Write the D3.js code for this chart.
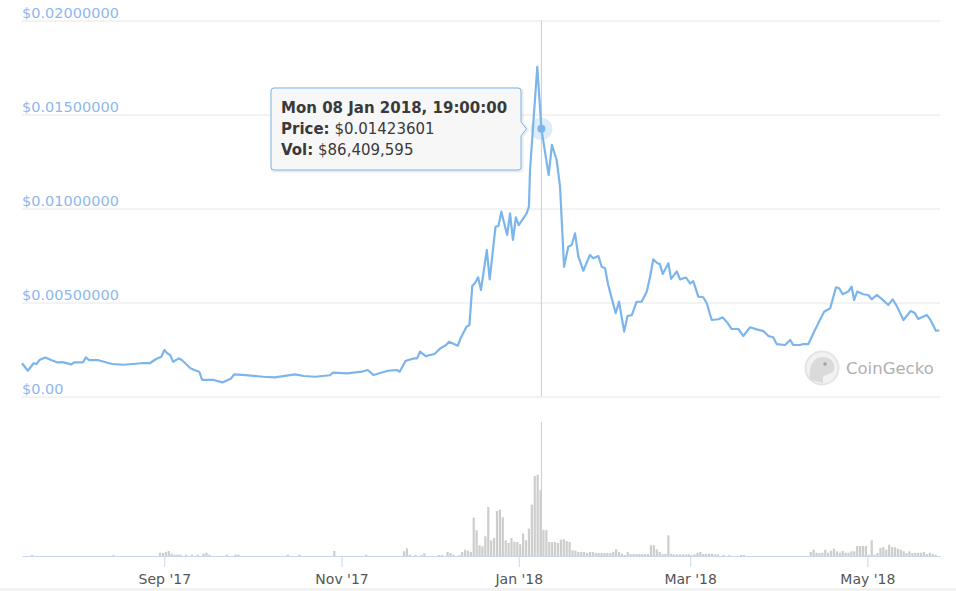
<!DOCTYPE html>
<html>
<head>
<meta charset="utf-8">
<script src="https://cdn.jsdelivr.net/npm/d3@7"></script>
<style>
  body { margin: 0; background: #fff; }
  text { font-family: "DejaVu Sans", sans-serif; }
</style>
</head>
<body>
<div class="chart"></div>
<script>
// price vertices (UTC)
var priceDates = [
  "2017-07-14","2017-07-16","2017-07-18","2017-07-19","2017-07-20","2017-07-22","2017-07-24","2017-07-26","2017-07-28","2017-07-31",
  "2017-08-01","2017-08-04","2017-08-05","2017-08-06","2017-08-09","2017-08-14","2017-08-18","2017-08-24","2017-08-27","2017-08-29",
  "2017-08-31","2017-09-01","2017-09-02","2017-09-03","2017-09-04","2017-09-06","2017-09-07","2017-09-10","2017-09-12","2017-09-13",
  "2017-09-14","2017-09-18","2017-09-21","2017-09-24","2017-09-25","2017-09-29","2017-10-05","2017-10-09","2017-10-16","2017-10-19",
  "2017-10-23","2017-10-28","2017-10-29","2017-11-03","2017-11-08","2017-11-10","2017-11-12","2017-11-17","2017-11-20","2017-11-21",
  "2017-11-23","2017-11-24","2017-11-26","2017-11-27","2017-11-28","2017-11-30","2017-12-03","2017-12-05","2017-12-07","2017-12-08",
  "2017-12-11","2017-12-12","2017-12-14","2017-12-15","2017-12-16","2017-12-17","2017-12-18","2017-12-19","2017-12-21","2017-12-22",
  "2017-12-24","2017-12-25","2017-12-26","2017-12-28","2017-12-29","2017-12-30","2017-12-31","2018-01-01","2018-01-03 17","2018-01-04 12",
  "2018-01-04 21","2018-01-07 09","2018-01-08 19","2018-01-11 07","2018-01-12 10","2018-01-14 01","2018-01-15 05","2018-01-16 14","2018-01-18 01","2018-01-19 05",
  "2018-01-20 09","2018-01-21 12","2018-01-23 05","2018-01-25 12","2018-01-26 16","2018-01-28 10","2018-01-29 13","2018-01-30 17","2018-01-31 19","2018-02-02",
  "2018-02-03 09","2018-02-04 12","2018-02-06 07","2018-02-07 10","2018-02-08 22","2018-02-10 14","2018-02-12 07","2018-02-14 01","2018-02-15 05","2018-02-16 07",
  "2018-02-17 17","2018-02-18 14","2018-02-19 13","2018-02-21 12","2018-02-22 10","2018-02-24 10","2018-02-25 12","2018-02-27 14","2018-02-28 23","2018-03-02 02",
  "2018-03-03 19","2018-03-05 12","2018-03-06 17","2018-03-08 10","2018-03-10 17","2018-03-12 05","2018-03-13 19","2018-03-15 07","2018-03-17 14","2018-03-19 07",
  "2018-03-21 14","2018-03-23 22","2018-03-26 05","2018-03-27 22","2018-03-29 14","2018-03-30 19","2018-04-02 16","2018-04-04 10","2018-04-05 12","2018-04-07 19",
  "2018-04-08 23","2018-04-10 17","2018-04-12 10","2018-04-14 02","2018-04-16 02","2018-04-18 05","2018-04-20 05","2018-04-21 07","2018-04-22 12","2018-04-24 10",
  "2018-04-25 14","2018-04-26 10","2018-04-27 12","2018-04-29 14","2018-05-01 07","2018-05-02 12","2018-05-04 05","2018-05-05 22","2018-05-08 05","2018-05-09 17",
  "2018-05-11 02","2018-05-13 10","2018-05-15 22","2018-05-17 05","2018-05-18 12","2018-05-21 10","2018-05-22 14","2018-05-24 14","2018-05-25 19"
];
var priceValues = [
  0.00177,0.00137,0.00177,0.00173,0.00194,0.00208,0.00194,0.00182,0.00183,0.00171,
  0.00182,0.00182,0.00208,0.00194,0.00194,0.00173,0.00169,0.00177,0.00177,0.00198,
  0.00212,0.00247,0.00230,0.00221,0.00185,0.00203,0.00194,0.00150,0.00137,0.00132,
  0.00088,0.00088,0.00075,0.00096,0.00118,0.00114,0.00105,0.00102,0.00118,0.00109,
  0.00105,0.00113,0.00127,0.00123,0.00132,0.00141,0.00114,0.00137,0.00141,0.00132,
  0.00189,0.00194,0.00203,0.00203,0.00238,0.00215,0.00226,0.00256,0.00274,0.00291,
  0.00270,0.00310,0.00371,0.00380,0.00588,0.00605,0.00634,0.00567,0.00779,0.00623,
  0.00903,0.00907,0.00983,0.00859,0.00974,0.00833,0.00953,0.00912,0.00974,0.01010,
  0.01205,0.01754,0.01423601,0.01178,0.01338,0.01258,0.01116,0.00690,0.00797,0.00806,
  0.00868,0.00745,0.00669,0.00753,0.00735,0.00747,0.00690,0.00682,0.00593,0.00522,
  0.00443,0.00504,0.00345,0.00428,0.00433,0.00504,0.00504,0.00557,0.00637,0.00730,
  0.00709,0.00704,0.00652,0.00709,0.00626,0.00665,0.00623,0.00633,0.00601,0.00614,
  0.00531,0.00528,0.00496,0.00407,0.00411,0.00421,0.00393,0.00359,0.00359,0.00322,
  0.00368,0.00357,0.00348,0.00322,0.00315,0.00279,0.00274,0.00301,0.00274,0.00274,
  0.00279,0.00279,0.00336,0.00389,0.00451,0.00469,0.00581,0.00576,0.00544,0.00558,
  0.00584,0.00513,0.00558,0.00544,0.00540,0.00517,0.00540,0.00519,0.00487,0.00517,
  0.00482,0.00407,0.00455,0.00446,0.00412,0.00434,0.00411,0.00350,0.00351
];

// daily volume, millions USD, one bar per day from volStart
var volStart = "2017-07-14 12";
var volumeM = [
  0,0,0,1.3,0,0,0,0,0,0,
  0,0,0,0,0,0,0,0,0,0,
  0,0,0,0,0,0,0,0,0,0,
  0,1.3,0,0,0,0,0,0,0,0,
  0,0,0,0,0,0,0,4.3,3.9,5.3,
  6.6,3.0,1.7,1.7,1.7,0,1.7,0,1.7,0,
  1.7,0,3.0,4.3,1.7,0,0,0,0,0,
  1.7,0,0,1.7,1.7,0,0,0,0,0,
  0,0,0,0,0,0,0,0,0,0,
  0,1.7,0,0,0,1.7,0,0,0,0,
  0,0,0,0,0,0,0,6.6,0,0,
  0,0,0,0,0,0,0,0,1.7,0,
  0,0,0,0,0,0,0,0,0,0,
  0,6.2,10.1,1.7,0,1.3,0,1.3,3.5,0,
  0,0,0,1.3,1.3,0,5.3,3.9,1.7,0,
  1.3,5.3,8.3,7.0,5.3,50.4,33.8,14.1,12.8,25.9,
  64.4,20.6,23.7,59.2,60.9,50.9,20.6,17.1,23.7,18.8,
  18.4,15.4,29.3,20.6,35.9,67.5,105.2,106.9,86.4,34.6,
  33.8,18.4,18.4,18.4,17.1,21.4,22.0,19.7,18.4,7.5,
  7.0,5.3,5.3,5.3,3.9,5.3,5.3,3.9,3.9,3.9,
  3.9,3.9,3.9,5.3,8.8,5.3,3.0,1.3,5.3,2.6,
  2.6,2.6,2.6,2.6,2.6,2.6,14.1,14.1,8.8,5.3,
  2.6,2.6,27.2,3.0,2.2,2.2,2.2,2.2,2.2,2.2,
  1.3,2.2,4.3,5.3,2.6,2.6,3.0,3.0,2.2,2.2,
  0,1.3,0,1.3,0,0,0,1.3,1.3,0,
  0,0,0,0,0,0,0,0,0,0,
  0,0,0,0,0,0,0,0,0,0,
  0,5.3,8.3,4.3,3.9,4.3,8.3,4.3,7.0,9.6,
  6.2,4.3,6.6,4.3,4.3,6.2,6.2,13.2,13.2,13.2,
  13.2,1.7,20.6,1.7,3.9,10.5,11.8,8.3,14.9,11.8,
  11.4,9.6,8.3,6.2,3.9,6.2,3.9,4.3,4.3,4.3,
  5.3,2.6,4.3,2.6,1.7,0
];

var yTickValues = [0, 0.005, 0.01, 0.015, 0.02];
var xTickDates = ["2017-09-01","2017-11-01","2018-01-01","2018-03-01","2018-05-01"];
var xDomain = ["2017-07-14","2018-05-26"];

var hoverDate = "2018-01-08 19";
var hoverPrice = 0.01423601;
var hoverVol = 86409595;

var parseDay = d3.utcParse("%Y-%m-%d"),
    parseHour = d3.utcParse("%Y-%m-%d %H");
var parse = function(s){ return s.length > 10 ? parseHour(s) : parseDay(s); };

var size = { width: 956, height: 591 };
var plot = { left: 22, right: 940, priceTop: 20.5, priceBottom: 396.5, volTop: 422, volBottom: 556 };

var svg = d3.select('.chart').append('svg')
  .attr('width', size.width)
  .attr('height', size.height);

var x = d3.scaleUtc()
  .domain(xDomain.map(parse))
  .range([plot.left, plot.right]);

var y = d3.scaleLinear()
  .domain([0, 0.02])
  .range([plot.priceBottom, plot.priceTop]);

var yVol = d3.scaleLinear()
  .domain([0, 176])
  .range([plot.volBottom, plot.volTop]);

// faint band at the very bottom
svg.append('rect')
  .attr('x', 0).attr('y', 588).attr('width', size.width).attr('height', 3)
  .attr('fill', '#f2f2f2');

// price gridlines + labels
var yAxis = d3.axisRight(y)
  .tickValues(yTickValues)
  .tickSize(plot.right - plot.left)
  .tickFormat(function(d){ return d === 0 ? '$0.00' : '$' + d.toFixed(8); });

var gy = svg.append('g')
  .attr('transform', 'translate(' + plot.left + ',0)')
  .call(yAxis);
gy.select('.domain').remove();
gy.selectAll('line').attr('stroke', '#e6e6e6');
gy.selectAll('text')
  .attr('x', 0)
  .attr('y', 0)
  .attr('dy', -3)
  .attr('text-anchor', 'start')
  .attr('fill', '#8db8ee')
  .attr('font-size', 14.5);

// CoinGecko watermark
var wm = svg.append('g').attr('opacity', 0.9);
wm.append('circle').attr('cx', 822).attr('cy', 368).attr('r', 16.5)
  .attr('fill', '#f1f1f1').attr('stroke', '#e2e2e2').attr('stroke-width', 2);
wm.append('path')
  .attr('d', 'M810,380 C808,368 812,358 822,357 C831,357 836,363 834,370 C832,375 826,374 823,377 L823,383 Z')
  .attr('fill', '#d6d6d6');
wm.append('circle').attr('cx', 825).attr('cy', 364).attr('r', 1.8).attr('fill', '#9a9a9a');
wm.append('text')
  .attr('x', 846).attr('y', 374)
  .attr('font-size', 16.5)
  .attr('fill', '#a8a8a8')
  .text('CoinGecko');

// volume bars
var volData = volumeM.map(function(v, i){
  return { date: d3.utcDay.offset(parse(volStart), i), v: v };
}).filter(function(d){ return d.v > 0; });

svg.append('g').selectAll('rect')
  .data(volData)
  .enter().append('rect')
  .attr('x', function(d){ return x(d.date) - 1.1; })
  .attr('y', function(d){ return yVol(d.v); })
  .attr('width', 2.2)
  .attr('height', function(d){ return plot.volBottom - yVol(d.v); })
  .attr('fill', '#cdcdcd');

// x axis under volume
var xAxis = d3.axisBottom(x)
  .tickValues(xTickDates.map(parse))
  .tickSize(11)
  .tickSizeOuter(0)
  .tickPadding(7)
  .tickFormat(d3.utcFormat("%b '%y"));

var gx = svg.append('g')
  .attr('transform', 'translate(0,' + plot.volBottom + ')')
  .call(xAxis);
gx.select('.domain').attr('stroke', '#ccd6eb');
gx.selectAll('line').attr('stroke', '#ccd6eb');
gx.selectAll('text').attr('fill', '#555').attr('font-size', 14);

// crosshair
var hx = x(parse(hoverDate));
[[plot.priceTop, plot.priceBottom], [plot.volTop, plot.volBottom]].forEach(function(r){
  svg.append('line')
    .attr('x1', hx).attr('x2', hx)
    .attr('y1', r[0]).attr('y2', r[1])
    .attr('stroke', '#cccccc').attr('stroke-width', 1);
});

// price line
var line = d3.line()
  .x(function(d){ return x(d.date); })
  .y(function(d){ return y(d.v); });

var priceData = priceDates.map(function(s, i){ return { date: parse(s), v: priceValues[i] }; });

svg.append('path')
  .datum(priceData)
  .attr('d', line)
  .attr('fill', 'none')
  .attr('stroke', '#7cb5ec')
  .attr('stroke-width', 2.2)
  .attr('stroke-linejoin', 'round');

// hover marker
var hy = y(hoverPrice);
svg.append('circle').attr('cx', hx).attr('cy', hy).attr('r', 11)
  .attr('fill', '#7cb5ec').attr('fill-opacity', 0.25);
svg.append('circle').attr('cx', hx).attr('cy', hy).attr('r', 4)
  .attr('fill', '#7cb5ec');

// tooltip
var tip = { x: 271, y: 88, w: 250, h: 82 };
var tr = tip.x + tip.w, ty = hy;
var tipPath = 'M' + (tip.x + 3) + ',' + tip.y +
  ' L' + (tr - 3) + ',' + tip.y + ' Q' + tr + ',' + tip.y + ' ' + tr + ',' + (tip.y + 3) +
  ' L' + tr + ',' + (ty - 7) + ' L' + (hx - 15) + ',' + ty + ' L' + tr + ',' + (ty + 7) +
  ' L' + tr + ',' + (tip.y + tip.h - 3) + ' Q' + tr + ',' + (tip.y + tip.h) + ' ' + (tr - 3) + ',' + (tip.y + tip.h) +
  ' L' + (tip.x + 3) + ',' + (tip.y + tip.h) + ' Q' + tip.x + ',' + (tip.y + tip.h) + ' ' + tip.x + ',' + (tip.y + tip.h - 3) +
  ' L' + tip.x + ',' + (tip.y + 3) + ' Q' + tip.x + ',' + tip.y + ' ' + (tip.x + 3) + ',' + tip.y + ' Z';

var tg = svg.append('g');
tg.append('path').attr('d', tipPath)
  .attr('transform', 'translate(1,1)')
  .attr('fill', 'none').attr('stroke', '#000').attr('stroke-opacity', 0.08).attr('stroke-width', 3);
tg.append('path').attr('d', tipPath)
  .attr('fill', '#f7f7f7').attr('fill-opacity', 0.95)
  .attr('stroke', '#7cb5ec').attr('stroke-width', 1);

var tipLines = [
  [d3.utcFormat('%a %d %b %Y, %H:%M:%S')(parse(hoverDate)), ''],
  ['Price:', '$' + hoverPrice.toFixed(8)],
  ['Vol:', '$' + d3.format(',')(hoverVol)]
];
tipLines.forEach(function(l, i){
  var t = tg.append('text')
    .attr('x', 281).attr('y', 113 + i * 21)
    .attr('font-size', 15).attr('fill', '#3a3a3a');
  t.append('tspan').attr('font-weight', 'bold').text(l[0]);
  if (l[1]) t.append('tspan').text('\u00a0' + l[1]);
});
</script>
</body>
</html>
